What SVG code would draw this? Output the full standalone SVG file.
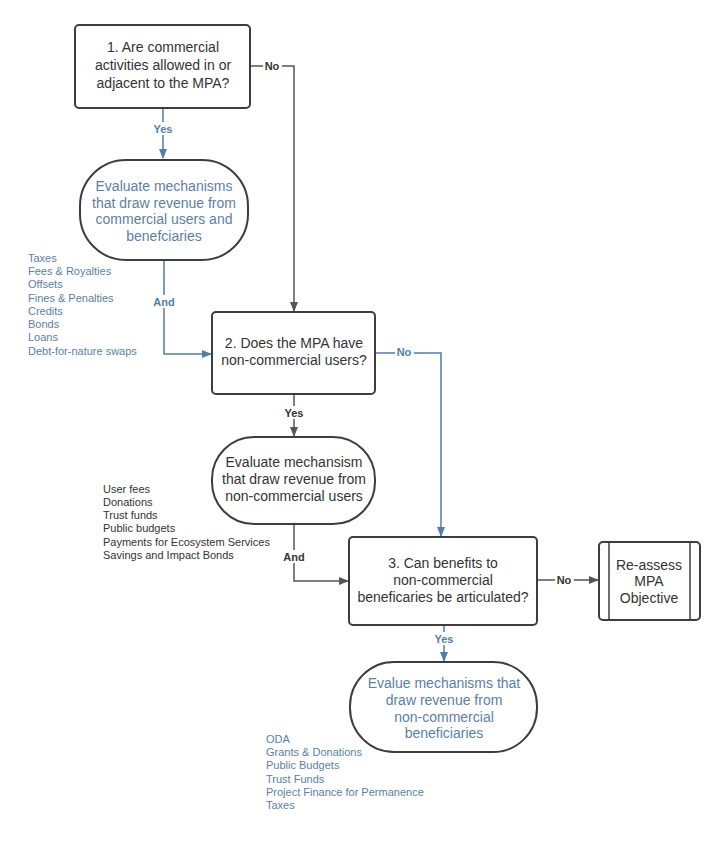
<svg xmlns="http://www.w3.org/2000/svg" width="725" height="850" viewBox="0 0 725 850">
<style>
.box{fill:#fff;stroke:#3d3d3d;stroke-width:2}
.t{font-family:"Liberation Sans",Arial,sans-serif;font-size:14px;text-anchor:middle;fill:#333}
.tb{font-family:"Liberation Sans",Arial,sans-serif;font-size:14px;text-anchor:middle;fill:#5a7fa3}
.l{font-family:"Liberation Sans",Arial,sans-serif;font-size:11px;fill:#333}
.lb{font-family:"Liberation Sans",Arial,sans-serif;font-size:11px;fill:#5a7fa3}
.lab{font-family:"Liberation Sans",Arial,sans-serif;font-size:11px;font-weight:bold;text-anchor:middle}
.cd{fill:none;stroke:#555;stroke-width:1.5}
.cb{fill:none;stroke:#4f7eab;stroke-width:1.5}
</style>
<defs>
<marker id="ad" markerWidth="10" markerHeight="10" refX="9" refY="5" orient="auto" markerUnits="userSpaceOnUse"><path d="M0,1 L10,5 L0,9 Z" fill="#555"/></marker>
<marker id="ab" markerWidth="10" markerHeight="10" refX="9" refY="5" orient="auto" markerUnits="userSpaceOnUse"><path d="M0,1 L10,5 L0,9 Z" fill="#4f7eab"/></marker>
</defs>
<rect width="725" height="850" fill="#fff"/>
<g id="connectors">
<path class="cd" d="M250,66 H294 V311" marker-end="url(#ad)"/>
<path class="cb" d="M163,108 V158" marker-end="url(#ab)"/>
<path class="cb" d="M164,260 V354 H211" marker-end="url(#ab)"/>
<path class="cb" d="M375,353 H441 V536" marker-end="url(#ab)"/>
<path class="cd" d="M294,394 V436" marker-end="url(#ad)"/>
<path class="cd" d="M294,524 V581 H348" marker-end="url(#ad)"/>
<path class="cd" d="M537,580 H598" marker-end="url(#ad)"/>
<path class="cb" d="M444,625 V661" marker-end="url(#ab)"/>
<g class="lab">
<rect x="263" y="59" width="19" height="13" fill="#fff"/><text x="272" y="70" fill="#333">No</text>
<rect x="150" y="122" width="26" height="13" fill="#fff"/><text x="163" y="133" fill="#4f7eab">Yes</text>
<rect x="151" y="295" width="26" height="13" fill="#fff"/><text x="164" y="306" fill="#4f7eab">And</text>
<rect x="395" y="346" width="19" height="13" fill="#fff"/><text x="404" y="356" fill="#4f7eab">No</text>
<rect x="281" y="406" width="26" height="13" fill="#fff"/><text x="294" y="417" fill="#333">Yes</text>
<rect x="281" y="550" width="26" height="13" fill="#fff"/><text x="294" y="561" fill="#333">And</text>
<rect x="555" y="573" width="19" height="13" fill="#fff"/><text x="564" y="584" fill="#333">No</text>
<rect x="431" y="632" width="26" height="13" fill="#fff"/><text x="444" y="643" fill="#4f7eab">Yes</text>
</g>
</g>
<g id="q1">
<rect class="box" x="75" y="25" width="175" height="83" rx="4"/>
<text class="t" x="163" y="52">1. Are commercial</text>
<text class="t" x="163" y="70">activities allowed in or</text>
<text class="t" x="163" y="88">adjacent to the MPA?</text>
</g>
<g id="e1">
<rect class="box" x="80" y="160" width="168" height="100" rx="46" ry="46"/>
<text class="tb" x="164" y="191">Evaluate mechanisms</text>
<text class="tb" x="164" y="208">that draw revenue from</text>
<text class="tb" x="164" y="224">commercial users and</text>
<text class="tb" x="164" y="241">benefciaries</text>
</g>
<g id="list1" class="lb">
<text x="28" y="262">Taxes</text>
<text x="28" y="275">Fees &amp; Royalties</text>
<text x="28" y="288">Offsets</text>
<text x="28" y="302">Fines &amp; Penalties</text>
<text x="28" y="315">Credits</text>
<text x="28" y="328">Bonds</text>
<text x="28" y="341">Loans</text>
<text x="28" y="355">Debt-for-nature swaps</text>
</g>
<g id="q2">
<rect class="box" x="212" y="312" width="163" height="82" rx="4"/>
<text class="t" x="294" y="348">2. Does the MPA have</text>
<text class="t" x="294" y="365">non-commercial users?</text>
</g>
<g id="e2">
<rect class="box" x="212" y="437" width="163" height="87" rx="42" ry="42"/>
<text class="t" x="294" y="467">Evaluate mechansism</text>
<text class="t" x="294" y="484">that draw revenue from</text>
<text class="t" x="294" y="501">non-commercial users</text>
</g>
<g id="list2" class="l">
<text x="103" y="493">User fees</text>
<text x="103" y="506">Donations</text>
<text x="103" y="519">Trust funds</text>
<text x="103" y="532">Public budgets</text>
<text x="103" y="546">Payments for Ecosystem Services</text>
<text x="103" y="559">Savings and Impact Bonds</text>
</g>
<g id="q3">
<rect class="box" x="349" y="537" width="188" height="88" rx="4"/>
<text class="t" x="443" y="568">3. Can benefits to</text>
<text class="t" x="443" y="585">non-commercial</text>
<text class="t" x="443" y="602">beneficaries be articulated?</text>
</g>
<g id="reassess">
<rect class="box" x="599" y="542" width="101" height="78" rx="4"/>
<line x1="609" y1="542" x2="609" y2="620" stroke="#3d3d3d" stroke-width="1.5"/>
<line x1="690" y1="542" x2="690" y2="620" stroke="#3d3d3d" stroke-width="1.5"/>
<text class="t" x="649" y="570">Re-assess</text>
<text class="t" x="649" y="586">MPA</text>
<text class="t" x="649" y="603">Objective</text>
</g>
<g id="e3">
<rect class="box" x="350" y="662" width="187" height="90" rx="44" ry="44"/>
<text class="tb" x="444" y="688">Evalue mechanisms that</text>
<text class="tb" x="444" y="705">draw revenue from</text>
<text class="tb" x="444" y="722">non-commercial</text>
<text class="tb" x="444" y="738">beneficiaries</text>
</g>
<g id="list3" class="lb">
<text x="266" y="743">ODA</text>
<text x="266" y="756">Grants &amp; Donations</text>
<text x="266" y="769">Public Budgets</text>
<text x="266" y="783">Trust Funds</text>
<text x="266" y="796">Project Finance for Permanence</text>
<text x="266" y="809">Taxes</text>
</g>
</svg>
